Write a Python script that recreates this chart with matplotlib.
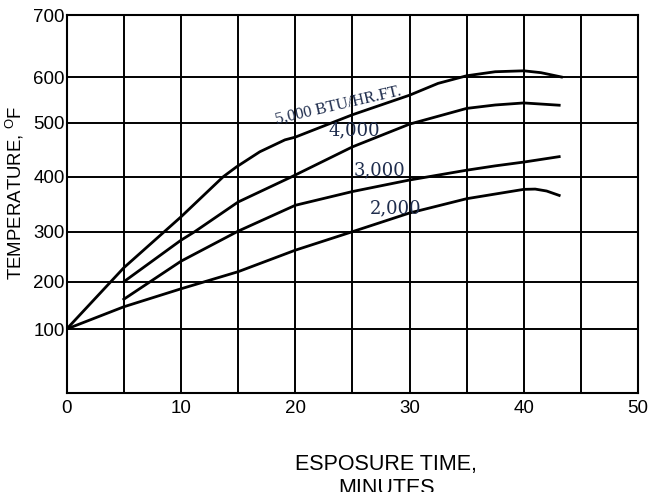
import numpy as np
import matplotlib
matplotlib.use("Agg")
import matplotlib.pyplot as plt

plt.rcParams['font.family'] = ['Liberation Sans', 'DejaVu Sans']
plt.rcParams['mathtext.fontset'] = 'custom'
plt.rcParams['mathtext.rm'] = 'Liberation Sans'

# --- data (minutes, deg F) ---
t_5000 = [0, 5, 10, 13.7, 14.85, 16.9, 19.1, 20, 25, 30, 32.5, 35, 37.5, 40, 41.5, 43.3]
T_5000 = [100, 228, 327, 400, 418, 446, 468, 473, 517, 560, 586, 602, 608.5, 610, 607, 600]

t_4000 = [5, 10, 11.2, 15, 19.7, 25, 30, 35, 37.5, 40, 43.1]
T_4000 = [200, 283, 300, 354, 400, 455, 497, 531, 538.5, 543, 538]

t_3000 = [5, 10, 15, 20, 25, 30, 35, 37.5, 40, 43.1]
T_3000 = [163, 241, 301, 348, 373, 394, 412, 420, 427, 437]

t_2000 = [0, 5, 10, 15, 20, 25, 30, 35, 37.5, 40, 41, 42, 43.1]
T_2000 = [100, 147, 185, 220, 263, 300, 334, 360, 368.5, 377, 377.5, 374, 366]

x_ticks = [0, 10, 20, 30, 40, 50]
y_ticks = [100, 200, 300, 400, 500, 600, 700]

# the printed temperature grid is not evenly spaced -> piecewise scale
y_anchor_T = np.array([0, 100, 200, 300, 400, 500, 600, 700])
y_anchor_pos = np.array([0, 64, 111.3, 161.3, 216.3, 270.5, 316, 378])


def fwd(v):
    return np.interp(v, y_anchor_T, y_anchor_pos)


def inv(v):
    return np.interp(v, y_anchor_pos, y_anchor_T)


fig = plt.figure(figsize=(6.49, 4.92), dpi=100)
ax = fig.add_axes([0.1028, 0.2012, 0.8803, 0.7683])
ax.set_yscale('function', functions=(fwd, inv))

lw = 2.0
for t, T in [(t_5000, T_5000), (t_4000, T_4000), (t_3000, T_3000), (t_2000, T_2000)]:
    ax.plot(t, T, color='black', linewidth=lw, solid_joinstyle='round', zorder=3)

ax.set_xlim(0, 50)
ax.set_ylim(0, 700)
ax.set_xticks(x_ticks)
ax.set_xticks(np.arange(5, 50, 10), minor=True)
ax.set_yticks(y_ticks)
ax.tick_params(axis='both', which='both', length=0, labelsize=13.5)
ax.tick_params(axis='y', pad=1.5)
ax.tick_params(axis='x', pad=5)
ax.grid(True, which='both', color='black', linewidth=1.4)
for s in ax.spines.values():
    s.set_linewidth(1.5)
    s.set_color('black')

# curve labels
navy = '#1f2d4d'
ax.text(18.4, 497, '5,000 BTU/HR.FT.', rotation=13, rotation_mode='anchor',
        ha='left', va='baseline', fontsize=12, family='Liberation Serif', color=navy, zorder=4)
ax.text(25.2, 477, '4,000', ha='center', va='baseline', fontsize=13,
        family='DejaVu Serif', color=navy, zorder=4)
ax.text(27.4, 403, '3,000', ha='center', va='baseline', fontsize=13,
        family='DejaVu Serif', color=navy, zorder=4)
ax.text(28.8, 333, '2,000', ha='center', va='baseline', fontsize=13,
        family='DejaVu Serif', color=navy, zorder=4)

ax.set_ylabel(r'TEMPERATURE, $^{\rm O}$F', fontsize=13.4)
ax.yaxis.set_label_coords(-0.071, 0.53)
ax.set_xlabel('ESPOSURE TIME,\nMINUTES', fontsize=15.5, linespacing=1.2)
ax.xaxis.set_label_coords(0.559, -0.161)

fig.savefig('out.png', dpi=100)
